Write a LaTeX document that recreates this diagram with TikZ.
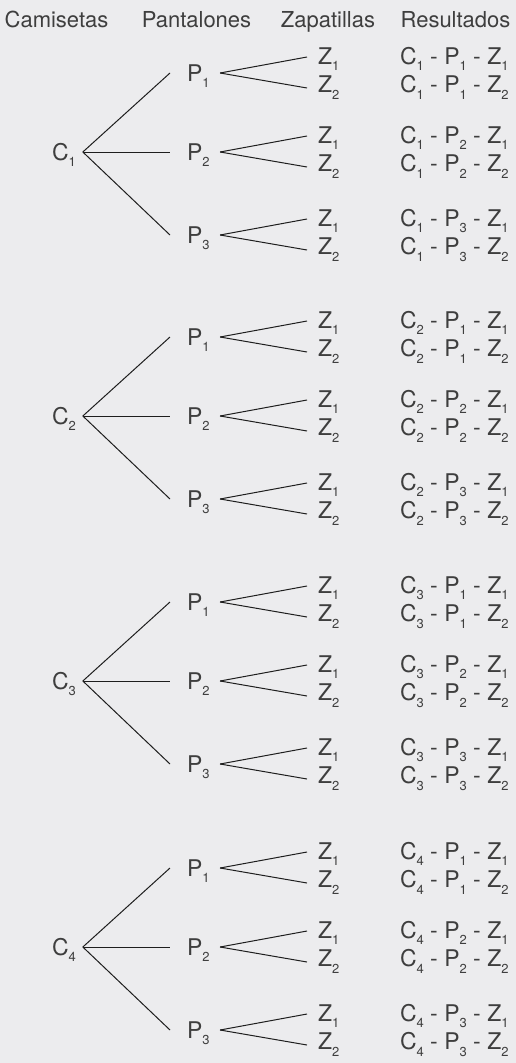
\documentclass[tikz,border=0pt]{standalone}
\usepackage{fontspec}
\setmainfont{TeX Gyre Heros}

\definecolor{bg}{RGB}{236,236,238}
\definecolor{ink}{RGB}{62,62,62}
\definecolor{wire}{RGB}{30,30,30}

% lowered small index after a letter
\newcommand{\sbs}[1]{\raisebox{-6.5pt}{\fontsize{13}{13}\selectfont #1}}

\begin{document}
\begin{tikzpicture}[x=1pt,y=-1pt,
  lbl/.style={inner sep=0pt, outer sep=0pt, text height=16pt, text depth=0pt,
              text=ink, font=\fontsize{23}{23}\selectfont, anchor=base west},
  head/.style={inner sep=0pt, text=ink, font=\fontsize{22}{22}\selectfont, anchor=base},
  branch/.style={draw=wire, line width=1pt}]

\fill[bg] (0,0) rectangle (516,1063);
\useasboundingbox (0,0) rectangle (516,1063);

% column headings
\node[head] (hC) at (56.5,27) {Camisetas};
\node[head] (hP) at (196.5,27) {Pantalones};
\node[head] (hZ) at (328,27) {Zapatillas};
\node[head] (hR) at (455.5,27) {Resultados};

% one tree per shirt
\foreach \cn/\yc in {1/152,2/416,3/681,4/947}{
  \pgfmathsetmacro\cbase{\yc+8}
  \node[lbl] (C\cn) at (52,\cbase) {C\sbs{\cn}};
  \foreach \pn/\poff in {1/-79,2/0,3/83}{
    \pgfmathsetmacro\yp{\yc+\poff}
    \pgfmathsetmacro\pbase{\yp+8}
    \node[lbl] (P\cn\pn) at (187,\pbase) {P\sbs{\pn}};
    \draw[branch] ([xshift=7pt]C\cn.east) -- ([xshift=-17pt]P\cn\pn.west);
    \foreach \zn/\zoff/\zsh in {1/-9/-1,2/19.5/-3.5}{
      \pgfmathsetmacro\zbase{\yp+\zoff}
      \node[lbl] (Z\cn\pn\zn) at (318,\zbase) {Z\sbs{\zn}};
      \node[lbl] (R\cn\pn\zn) at (400,\zbase)
        {C\sbs{\cn} - P\sbs{\pn} - Z\sbs{\zn}};
      \draw[branch] ([xshift=10.5pt]P\cn\pn.east)
        -- ([xshift=-11pt,yshift=\zsh pt]Z\cn\pn\zn.west);
    }
  }
}
\end{tikzpicture}
\end{document}
